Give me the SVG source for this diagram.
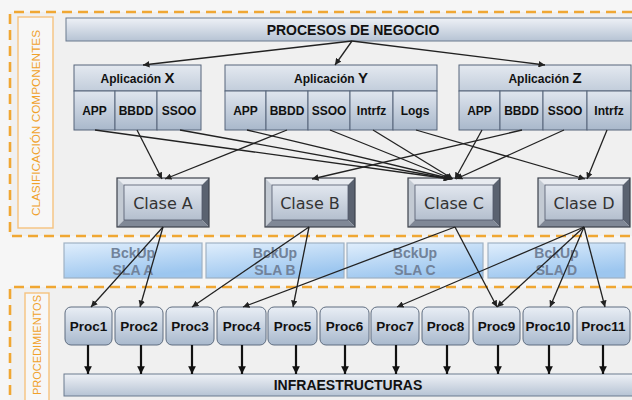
<svg xmlns="http://www.w3.org/2000/svg" width="632" height="400" viewBox="0 0 632 400">
  <defs>
    <linearGradient id="gBar" x1="0" y1="0" x2="0" y2="1">
      <stop offset="0" stop-color="#eef1f6"/>
      <stop offset="1" stop-color="#b6c3d4"/>
    </linearGradient>
    <linearGradient id="gHead" x1="0" y1="0" x2="0" y2="1">
      <stop offset="0" stop-color="#e4e9f0"/>
      <stop offset="1" stop-color="#c2cddb"/>
    </linearGradient>
    <linearGradient id="gCell" x1="0" y1="0" x2="0" y2="1">
      <stop offset="0" stop-color="#dfe5ee"/>
      <stop offset="1" stop-color="#a9b8cb"/>
    </linearGradient>
    <linearGradient id="gFace" x1="0" y1="0" x2="0" y2="1">
      <stop offset="0" stop-color="#e2e7ef"/>
      <stop offset="1" stop-color="#b4bfce"/>
    </linearGradient>
    <linearGradient id="gProc" x1="0" y1="0" x2="0" y2="1">
      <stop offset="0" stop-color="#e9eef5"/>
      <stop offset="1" stop-color="#a9b9cd"/>
    </linearGradient>
    <linearGradient id="gBck" x1="0" y1="0" x2="0.4" y2="1">
      <stop offset="0" stop-color="#e0eefc"/>
      <stop offset="1" stop-color="#9cc6ef"/>
    </linearGradient>
    <marker id="ah" viewBox="0 0 10 10" refX="10" refY="5" markerWidth="5" markerHeight="5" orient="auto">
      <path d="M0,0 L10,5 L0,10 z" fill="#222"/>
    </marker>
    <marker id="ahb" viewBox="0 0 10 10" refX="10" refY="5" markerWidth="3.5" markerHeight="3.5" orient="auto">
      <path d="M0,0 L10,5 L0,10 z" fill="#111"/>
    </marker>
  </defs>
  <style>
    .sec { fill: none; stroke: #f0a733; stroke-width: 2.6; stroke-dasharray: 10 6; }
    .lblbox { fill: #f7f7f7; stroke: #f5c27e; stroke-width: 1.4; }
    .lbl { font-family: "Liberation Sans", Arial, sans-serif; fill: #f0a12a; text-anchor: middle; }
    .bar { fill: url(#gBar); stroke: #6b7a8e; stroke-width: 1; }
    .head { fill: url(#gHead); stroke: #56657a; stroke-width: 1; }
    .cell { fill: url(#gCell); stroke: #56657a; stroke-width: 1; }
    .t { font-family: "Liberation Sans", Arial, sans-serif; font-weight: bold; fill: #111; text-anchor: middle; }
    .bt { font-size: 14px; }
    .ht { font-size: 12px; }
    .hx { font-size: 15px; }
    .ct { font-size: 12px; }
    .pt { font-size: 13.5px; }
    .face { fill: url(#gFace); stroke: #50586a; stroke-width: 0.8; }
    .bvt { fill: #e8ebf0; }
    .bvl { fill: #c3cad3; }
    .bvr { fill: #5a6270; }
    .bvb { fill: #808896; }
    .outer { fill: none; stroke: #3c424c; stroke-width: 1.2; }
    .clt { font-family: "DejaVu Sans", Verdana, sans-serif; font-size: 16px; fill: #333; text-anchor: middle; }
    .bck { fill: url(#gBck); stroke: #9fb1c4; stroke-width: 1.2; }
    .bkt { font-family: "Liberation Sans", Arial, sans-serif; font-weight: bold; font-size: 14px; fill: #71829a; text-anchor: middle; }
    .proc { fill: url(#gProc); stroke: #5f6d80; stroke-width: 1; }
    .ln { fill: none; stroke: #222; stroke-width: 1.3; marker-end: url(#ah); }
    .dn { fill: none; stroke: #111; stroke-width: 2.2; marker-end: url(#ahb); }
  </style>

  <!-- page and section backgrounds -->
  <rect x="0" y="0" width="632" height="400" fill="#f6f6f6"/>
  <rect x="10" y="12" width="622" height="224" fill="#f0f0f0"/>
  <rect x="10" y="287" width="622" height="113" fill="#f0f0f0"/>

  <!-- section frames -->
  <g id="section-clasificacion">
    <path class="sec" d="M632,12 H10 V236 H632"/>
    <rect class="lblbox" x="18" y="17" width="35" height="211"/>
    <text class="lbl" font-size="11.8" transform="translate(39.5,123) rotate(-90)">CLASIFICACIÓN COMPONENTES</text>
  </g>
  <g id="section-procedimientos">
    <path class="sec" d="M632,287 H10 V400"/>
    <rect class="lblbox" x="25" y="293" width="24" height="120"/>
    <text class="lbl" font-size="11" transform="translate(41,345) rotate(-90)">PROCEDIMIENTOS</text>
  </g>

  <!-- business processes bar -->
  <g id="procesos-negocio">
    <rect class="bar" x="66" y="18" width="572" height="23"/>
    <text class="t bt" x="353" y="35">PROCESOS DE NEGOCIO</text>
  </g>

  <!-- applications -->
  <g id="app-x">
    <rect class="head" x="74" y="65" width="127" height="26"/>
    <text class="t ht" x="137.5" y="83">Aplicación <tspan class="hx">X</tspan></text>
    <rect class="cell" x="74" y="91" width="41" height="39"/>
    <rect class="cell" x="115" y="91" width="42" height="39"/>
    <rect class="cell" x="157" y="91" width="44" height="39"/>
    <text class="t ct" x="94.5" y="115">APP</text>
    <text class="t ct" x="136" y="115">BBDD</text>
    <text class="t ct" x="179" y="115">SSOO</text>
  </g>
  <g id="app-y">
    <rect class="head" x="225" y="65" width="212" height="26"/>
    <text class="t ht" x="331" y="83">Aplicación <tspan class="hx">Y</tspan></text>
    <rect class="cell" x="225" y="91" width="41" height="39"/>
    <rect class="cell" x="266" y="91" width="42" height="39"/>
    <rect class="cell" x="308" y="91" width="42" height="39"/>
    <rect class="cell" x="350" y="91" width="43" height="39"/>
    <rect class="cell" x="393" y="91" width="44" height="39"/>
    <text class="t ct" x="245.5" y="115">APP</text>
    <text class="t ct" x="287" y="115">BBDD</text>
    <text class="t ct" x="329" y="115">SSOO</text>
    <text class="t ct" x="371.5" y="115">Intrfz</text>
    <text class="t ct" x="415" y="115">Logs</text>
  </g>
  <g id="app-z">
    <rect class="head" x="459" y="65" width="172" height="26"/>
    <text class="t ht" x="545" y="83">Aplicación <tspan class="hx">Z</tspan></text>
    <rect class="cell" x="459" y="91" width="41" height="39"/>
    <rect class="cell" x="500" y="91" width="43" height="39"/>
    <rect class="cell" x="543" y="91" width="44" height="39"/>
    <rect class="cell" x="587" y="91" width="44" height="39"/>
    <text class="t ct" x="479.5" y="115">APP</text>
    <text class="t ct" x="521.5" y="115">BBDD</text>
    <text class="t ct" x="565" y="115">SSOO</text>
    <text class="t ct" x="609" y="115">Intrfz</text>
  </g>

  <!-- bevelled class boxes -->
  <g id="clase-a">
    <polygon class="bvt" points="117,178 209,178 202,185 124,185"/>
    <polygon class="bvl" points="117,178 124,185 124,220 117,227"/>
    <polygon class="bvr" points="209,178 209,227 202,220 202,185"/>
    <polygon class="bvb" points="117,227 209,227 202,220 124,220"/>
    <rect class="face" x="124" y="185" width="78" height="35"/>
    <rect class="outer" x="117" y="178" width="92" height="49"/>
    <text class="clt" x="163" y="209">Clase A</text>
  </g>
  <g id="clase-b">
    <polygon class="bvt" points="265,178 355,178 348,185 272,185"/>
    <polygon class="bvl" points="265,178 272,185 272,220 265,227"/>
    <polygon class="bvr" points="355,178 355,227 348,220 348,185"/>
    <polygon class="bvb" points="265,227 355,227 348,220 272,220"/>
    <rect class="face" x="272" y="185" width="76" height="35"/>
    <rect class="outer" x="265" y="178" width="90" height="49"/>
    <text class="clt" x="310" y="209">Clase B</text>
  </g>
  <g id="clase-c">
    <polygon class="bvt" points="408,178 500,178 493,185 415,185"/>
    <polygon class="bvl" points="408,178 415,185 415,220 408,227"/>
    <polygon class="bvr" points="500,178 500,227 493,220 493,185"/>
    <polygon class="bvb" points="408,227 500,227 493,220 415,220"/>
    <rect class="face" x="415" y="185" width="78" height="35"/>
    <rect class="outer" x="408" y="178" width="92" height="49"/>
    <text class="clt" x="454" y="209">Clase C</text>
  </g>
  <g id="clase-d">
    <polygon class="bvt" points="538,178 630,178 623,185 545,185"/>
    <polygon class="bvl" points="538,178 545,185 545,220 538,227"/>
    <polygon class="bvr" points="630,178 630,227 623,220 623,185"/>
    <polygon class="bvb" points="538,227 630,227 623,220 545,220"/>
    <rect class="face" x="545" y="185" width="78" height="35"/>
    <rect class="outer" x="538" y="178" width="92" height="49"/>
    <text class="clt" x="584" y="209">Clase D</text>
  </g>

  <!-- backup / SLA bands -->
  <g id="bck-a">
    <rect class="bck" x="64" y="243" width="138" height="35"/>
    <text class="bkt" x="133" y="257.5">BckUp</text>
    <text class="bkt" x="133" y="274.5">SLA A</text>
  </g>
  <g id="bck-b">
    <rect class="bck" x="206" y="243" width="138" height="35"/>
    <text class="bkt" x="275" y="257.5">BckUp</text>
    <text class="bkt" x="275" y="274.5">SLA B</text>
  </g>
  <g id="bck-c">
    <rect class="bck" x="347" y="243" width="136" height="35"/>
    <text class="bkt" x="415" y="257.5">BckUp</text>
    <text class="bkt" x="415" y="274.5">SLA C</text>
  </g>
  <g id="bck-d">
    <rect class="bck" x="488" y="243" width="137" height="35"/>
    <text class="bkt" x="556.5" y="257.5">BckUp</text>
    <text class="bkt" x="556.5" y="274.5">SLA D</text>
  </g>

  <!-- procedures -->
  <g id="proc1"><rect class="proc" x="65" y="307" width="47" height="38" rx="6"/><text class="t pt" x="88.5" y="331">Proc1</text></g>
  <g id="proc2"><rect class="proc" x="115" y="307" width="48" height="38" rx="6"/><text class="t pt" x="139" y="331">Proc2</text></g>
  <g id="proc3"><rect class="proc" x="166" y="307" width="48" height="38" rx="6"/><text class="t pt" x="190" y="331">Proc3</text></g>
  <g id="proc4"><rect class="proc" x="217" y="307" width="49" height="38" rx="6"/><text class="t pt" x="241.5" y="331">Proc4</text></g>
  <g id="proc5"><rect class="proc" x="268" y="307" width="49" height="38" rx="6"/><text class="t pt" x="292.5" y="331">Proc5</text></g>
  <g id="proc6"><rect class="proc" x="320" y="307" width="49" height="38" rx="6"/><text class="t pt" x="344.5" y="331">Proc6</text></g>
  <g id="proc7"><rect class="proc" x="371" y="307" width="48" height="38" rx="6"/><text class="t pt" x="395" y="331">Proc7</text></g>
  <g id="proc8"><rect class="proc" x="422" y="307" width="47" height="38" rx="6"/><text class="t pt" x="445.5" y="331">Proc8</text></g>
  <g id="proc9"><rect class="proc" x="473" y="307" width="47" height="38" rx="6"/><text class="t pt" x="496.5" y="331">Proc9</text></g>
  <g id="proc10"><rect class="proc" x="523" y="307" width="50" height="38" rx="6"/><text class="t pt" x="548" y="331">Proc10</text></g>
  <g id="proc11"><rect class="proc" x="577" y="307" width="53" height="38" rx="6"/><text class="t pt" x="603.5" y="331">Proc11</text></g>

  <!-- infrastructure bar -->
  <g id="infraestructuras">
    <rect class="bar" x="64" y="374" width="574" height="22"/>
    <text class="t bt" x="348" y="390">INFRAESTRUCTURAS</text>
  </g>

  <!-- connectors -->
  <g id="connectors">
    <line class="ln" x1="352" y1="41" x2="143" y2="65"/>
    <line class="ln" x1="352" y1="41" x2="335" y2="65"/>
    <line class="ln" x1="352" y1="41" x2="545" y2="65"/>

    <line class="ln" x1="95" y1="130" x2="450" y2="179"/>
    <line class="ln" x1="137" y1="130" x2="162" y2="179"/>
    <line class="ln" x1="180" y1="130" x2="451" y2="179"/>
    <line class="ln" x1="247" y1="130" x2="452" y2="179"/>
    <line class="ln" x1="287" y1="130" x2="165" y2="179"/>
    <line class="ln" x1="330" y1="130" x2="452" y2="179"/>
    <line class="ln" x1="373" y1="130" x2="453" y2="179"/>
    <line class="ln" x1="416" y1="130" x2="585" y2="179"/>
    <line class="ln" x1="482" y1="130" x2="455" y2="179"/>
    <line class="ln" x1="522" y1="130" x2="312" y2="179"/>
    <line class="ln" x1="564" y1="130" x2="456" y2="179"/>
    <line class="ln" x1="607" y1="130" x2="587" y2="179"/>

    <line class="ln" x1="163" y1="227" x2="91" y2="307"/>
    <line class="ln" x1="163" y1="227" x2="140" y2="307"/>
    <line class="ln" x1="309" y1="227" x2="192" y2="307"/>
    <line class="ln" x1="309" y1="227" x2="293" y2="307"/>
    <line class="ln" x1="455" y1="227" x2="243" y2="307"/>
    <line class="ln" x1="455" y1="227" x2="497" y2="307"/>
    <line class="ln" x1="584" y1="227" x2="397" y2="307"/>
    <line class="ln" x1="584" y1="227" x2="497" y2="307"/>
    <line class="ln" x1="584" y1="227" x2="550" y2="307"/>
    <line class="ln" x1="584" y1="227" x2="605" y2="307"/>

    <line class="dn" x1="88" y1="345" x2="88" y2="374"/>
    <line class="dn" x1="141" y1="345" x2="141" y2="374"/>
    <line class="dn" x1="192" y1="345" x2="192" y2="374"/>
    <line class="dn" x1="242" y1="345" x2="242" y2="374"/>
    <line class="dn" x1="296" y1="345" x2="296" y2="374"/>
    <line class="dn" x1="345" y1="345" x2="345" y2="374"/>
    <line class="dn" x1="396" y1="345" x2="396" y2="374"/>
    <line class="dn" x1="447" y1="345" x2="447" y2="374"/>
    <line class="dn" x1="498" y1="345" x2="498" y2="374"/>
    <line class="dn" x1="549" y1="345" x2="549" y2="374"/>
    <line class="dn" x1="603" y1="345" x2="603" y2="374"/>
  </g>
</svg>
